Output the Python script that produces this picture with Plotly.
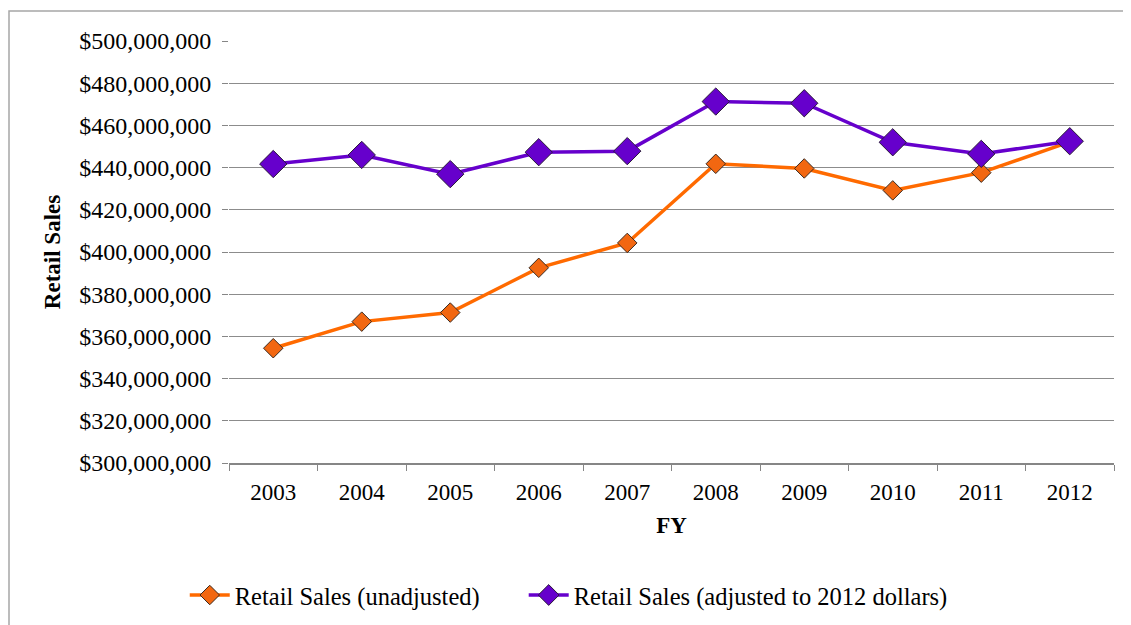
import plotly.graph_objects as go

years = ["2003", "2004", "2005", "2006", "2007", "2008", "2009", "2010", "2011", "2012"]
unadjusted = [354.4e6, 367.0e6, 371.3e6, 392.5e6, 404.3e6, 441.8e6, 439.6e6, 429.2e6, 437.6e6, 452.2e6]
adjusted = [441.7e6, 446.0e6, 436.9e6, 447.3e6, 447.8e6, 471.3e6, 470.5e6, 452.0e6, 446.5e6, 452.5e6]
series_names = ["Retail Sales (unadjusted)", "Retail Sales (adjusted to 2012 dollars)"]
y_ticks = list(range(300_000_000, 500_000_001, 20_000_000))
y_tick_labels = ["${:,}".format(v) for v in y_ticks]

FONT = "Times New Roman, Liberation Serif, serif"

fig = go.Figure()
fig.add_trace(go.Scatter(
    x=years, y=unadjusted, name=series_names[0], mode="lines+markers",
    line=dict(color="#FF6A00", width=3.5),
    marker=dict(symbol="diamond", size=15, color="#F26711",
                line=dict(color="#3a2a20", width=1)),
    legend="legend",
))
fig.add_trace(go.Scatter(
    x=years, y=adjusted, name=series_names[1], mode="lines+markers",
    line=dict(color="#6600CC", width=3.5),
    marker=dict(symbol="diamond", size=21, color="#6600CC",
                line=dict(color="#2a1a3a", width=1)),
    legend="legend2",
))

legend_common = dict(orientation="h", xanchor="left", y=-0.313, yanchor="middle",
                     font=dict(size=24.5, family=FONT), itemwidth=40,
                     bgcolor="rgba(0,0,0,0)")

fig.update_layout(
    width=1131, height=625,
    margin=dict(l=221, r=25, t=33, b=170, autoexpand=False),
    paper_bgcolor="white", plot_bgcolor="white",
    font=dict(family=FONT, size=23, color="black"),
    showlegend=True,
    legend=dict(x=-0.05, **legend_common),
    legend2=dict(x=0.333, **legend_common),
    xaxis=dict(
        type="category", range=[-0.5, 9.5], tickson="boundaries", ticks="outside", ticklen=6,
        tickcolor="#868686", showline=True, linecolor="#868686", linewidth=1.5,
        showgrid=False, automargin=False,
        title=dict(text="<b>FY</b>", font=dict(size=23, family=FONT), standoff=13),
        tickfont=dict(size=23, family=FONT),
        ticklabelstandoff=8,
    ),
    yaxis=dict(
        range=[300_000_000, 500_000_000], tickvals=y_ticks, ticktext=y_tick_labels,
        ticks="outside", ticklen=6, tickcolor="#868686", showline=False,
        showgrid=True, gridcolor="#8C8C8C", gridwidth=1, zeroline=False,
        automargin=False,
        title=dict(text="<b>Retail Sales</b>", font=dict(size=23, family=FONT), standoff=12),
        tickfont=dict(size=24, family=FONT),
        ticklabelstandoff=6,
    ),
    shapes=[dict(type="rect", xref="paper", yref="paper",
                 x0=(1 - 221) / 885, x1=1.2, y0=-0.6, y1=(455 - 3) / 422,
                 line=dict(color="#A6A6A6", width=1.5), fillcolor="rgba(0,0,0,0)",
                 layer="below")],
)

fig.write_html("out.html")
